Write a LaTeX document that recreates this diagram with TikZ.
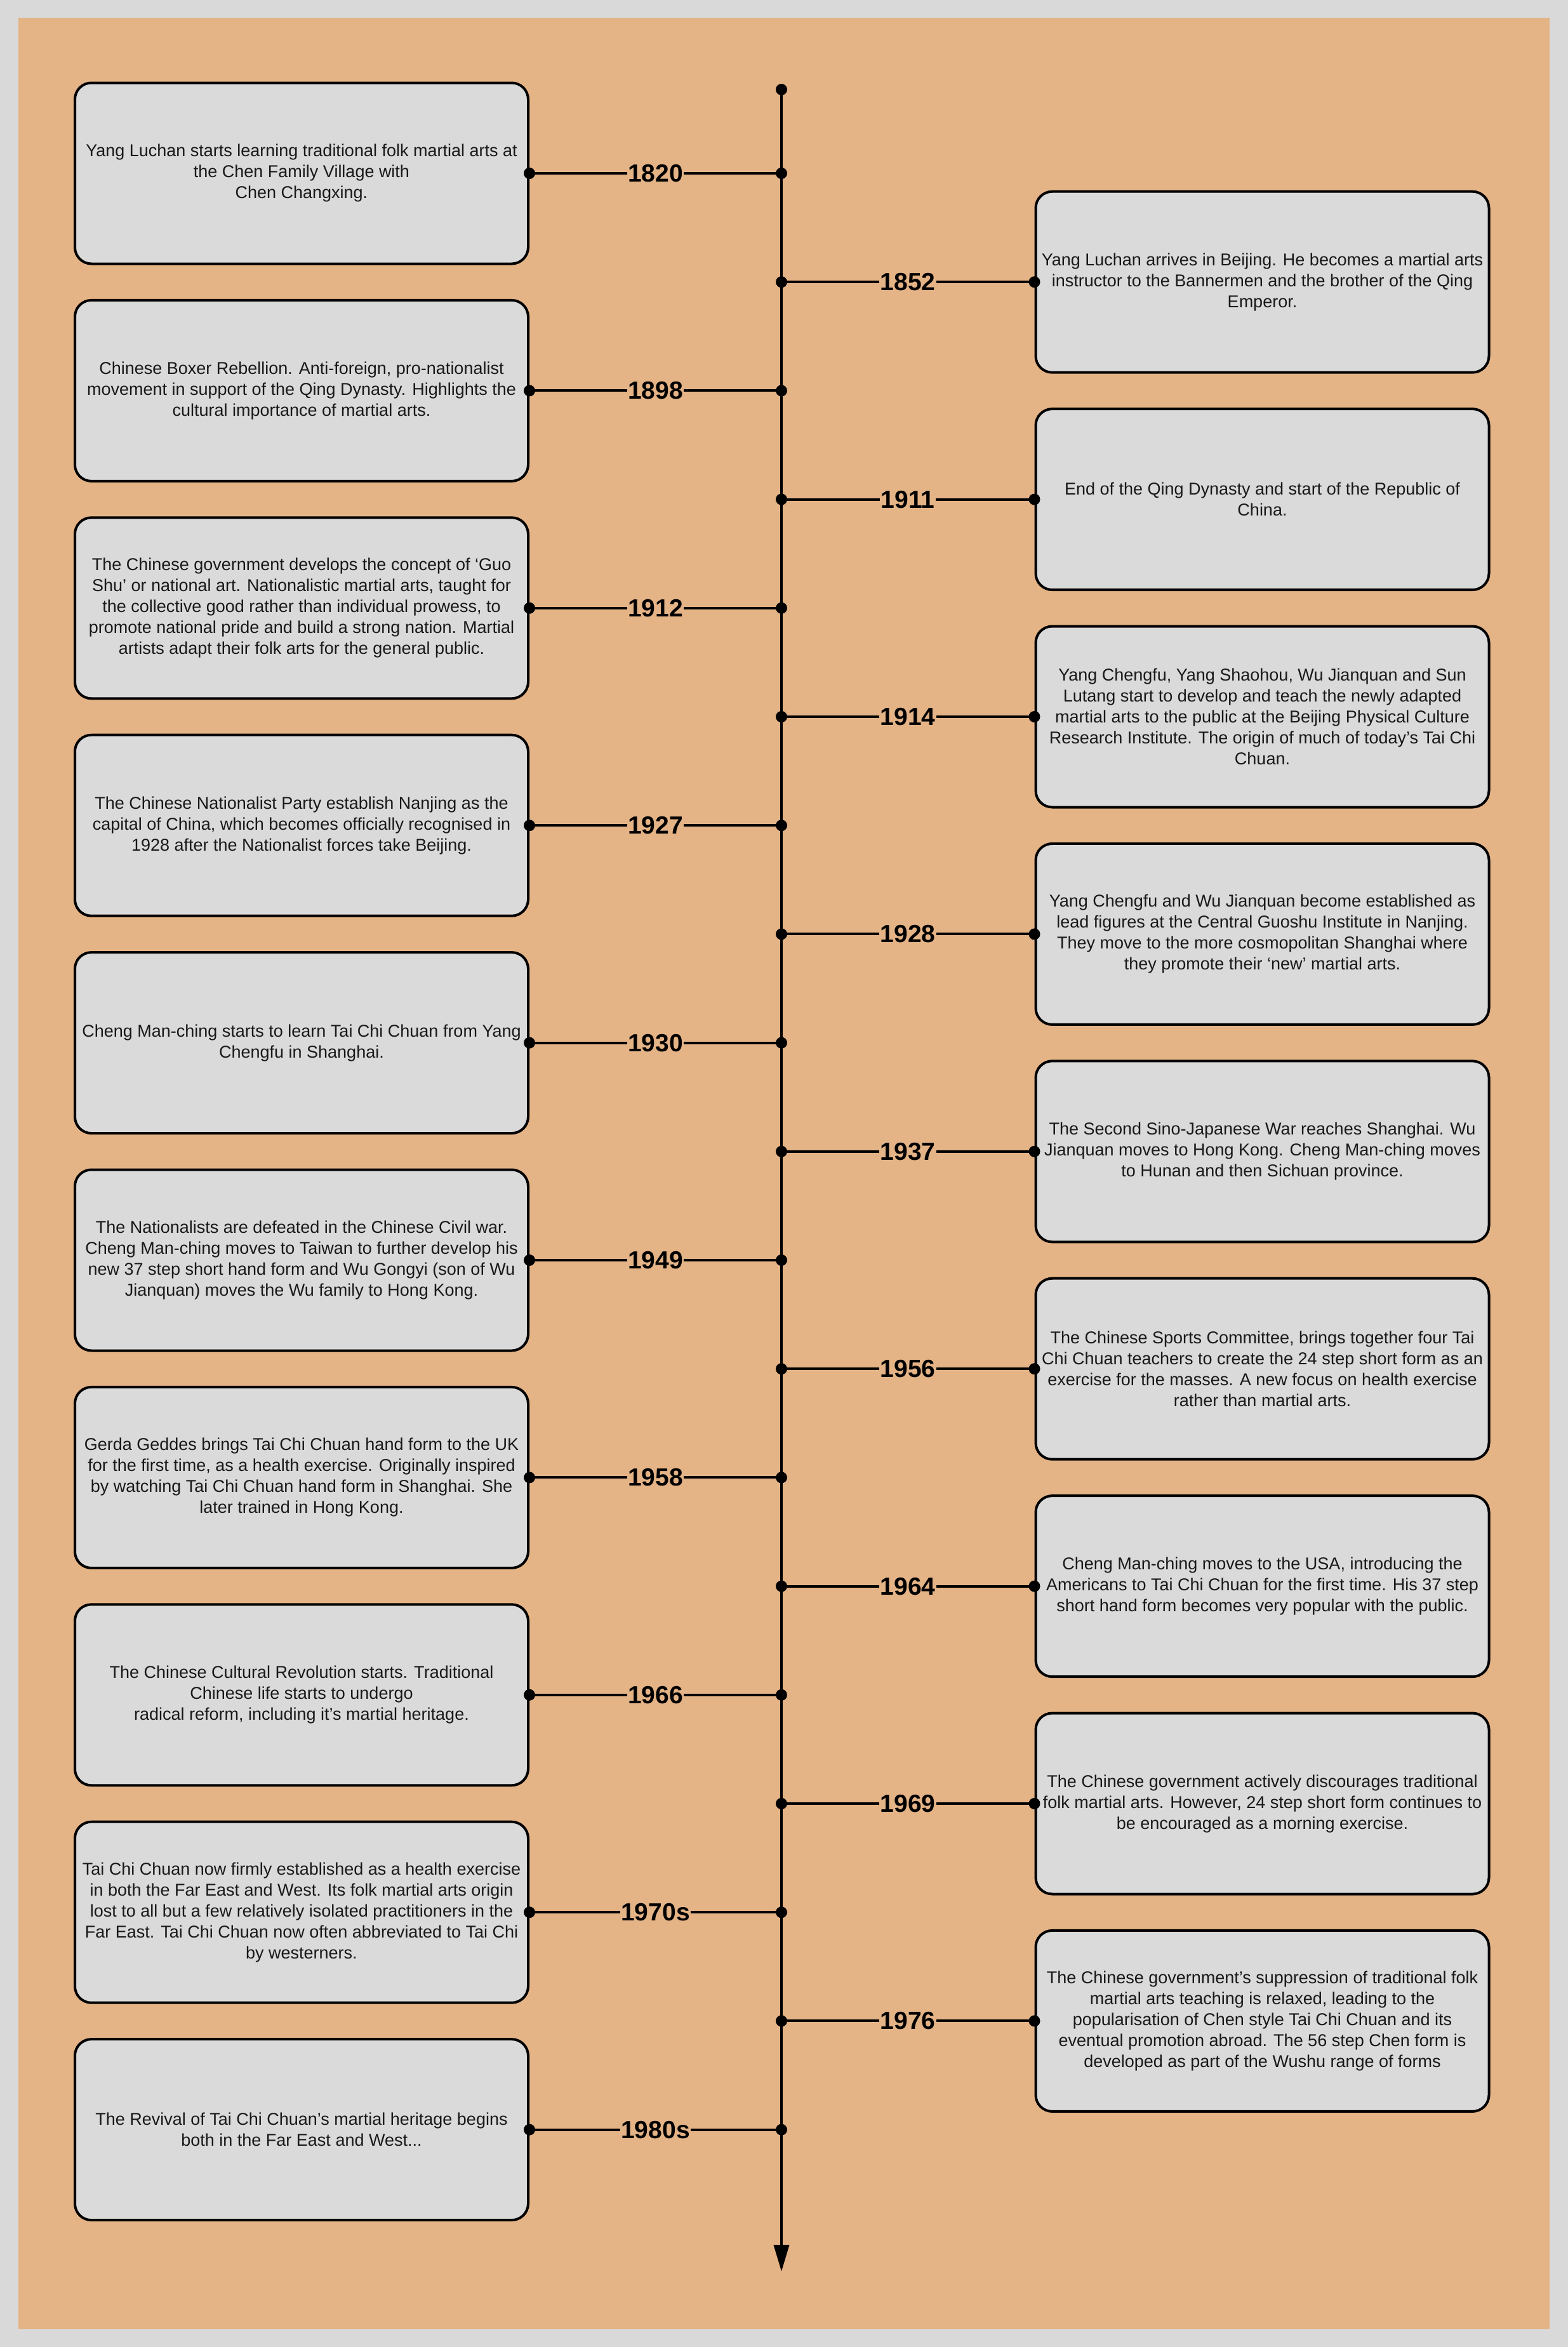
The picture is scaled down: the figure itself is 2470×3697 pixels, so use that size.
\documentclass[tikz,border=0pt]{standalone}
\usepackage{fontspec}
\setmainfont{Liberation Sans}
\usetikzlibrary{arrows.meta}
\definecolor{bggray}{RGB}{217,217,217}
\definecolor{panel}{RGB}{228,179,134}
\definecolor{boxgray}{RGB}{218,218,218}
\definecolor{txt}{RGB}{25,25,25}
\tikzset{
  evt/.style={draw=black, line width=4pt, fill=boxgray, rounded corners=26pt,
    minimum width=714pt, minimum height=285pt, align=center, inner sep=3pt,
    font=\fontsize{27}{33}\selectfont, text=txt},
  yr/.style={fill=panel, inner sep=1.5pt, font=\fontsize{39}{39}\selectfont\bfseries, text=black},
  conn/.style={line width=4pt, draw=black},
  axisline/.style={line width=4pt, draw=black, -{Triangle[length=42pt,width=24pt]}},
}
\newcommand\evtleft[3]{%
  \node[evt] (b#1) at (475,{273+171.2*#1}) {#3};
  \coordinate (a#1) at (1231,{273+171.2*#1});
  \draw[conn] (b#1.east) -- node[yr]{#2} (a#1);
  \fill (b#1.east) circle (9pt);
  \fill (a#1) circle (9pt);}
\newcommand\evtright[3]{%
  \node[evt] (b#1) at (1988.5,{273+171.2*#1}) {#3};
  \coordinate (a#1) at (1231,{273+171.2*#1});
  \draw[conn] (a#1) -- node[yr]{#2} (b#1.west);
  \fill (b#1.west) circle (9pt);
  \fill (a#1) circle (9pt);}
\begin{document}
\begin{tikzpicture}[x=1pt,y=-1pt]
\fill[bggray] (0,0) rectangle (2470,3697);
\fill[panel] (29,28) rectangle (2441,3669);
\useasboundingbox (0,0) rectangle (2470,3697);
\coordinate (top) at (1231,141);
\coordinate (bot) at (1231,3578);
\draw[axisline] (top) -- (bot);
\fill (top) circle (9pt);

\evtleft{0}{1820}{Yang Luchan starts learning traditional  folk martial arts at\\the Chen Family Village with\\Chen Changxing.}
\evtright{1}{1852}{Yang Luchan arrives in Beijing. He becomes a martial arts\\instructor to the Bannermen and the brother of the Qing\\Emperor.}
\evtleft{2}{1898}{Chinese Boxer Rebellion. Anti-foreign, pro-nationalist\\movement in support of the Qing Dynasty. Highlights the\\cultural importance of martial arts.}
\evtright{3}{1911}{End of the Qing Dynasty and start of the Republic of\\China.}
\evtleft{4}{1912}{The Chinese government develops the concept of ‘Guo\\Shu’ or national art. Nationalistic martial arts, taught for\\the collective good rather than individual prowess, to\\promote national pride and build a strong nation. Martial\\artists adapt their folk arts for the general public.}
\evtright{5}{1914}{Yang Chengfu, Yang Shaohou, Wu Jianquan and Sun\\Lutang start to develop and teach the newly adapted\\martial arts to the public at the Beijing Physical Culture\\Research Institute. The origin of much of today’s Tai Chi\\Chuan.}
\evtleft{6}{1927}{The Chinese Nationalist Party establish Nanjing as the\\capital of China, which becomes officially recognised in\\1928 after the Nationalist forces take Beijing.}
\evtright{7}{1928}{Yang Chengfu and Wu Jianquan become established as\\lead figures at the Central Guoshu Institute in Nanjing.\\They move to the more cosmopolitan Shanghai where\\they promote their ‘new’ martial arts.}
\evtleft{8}{1930}{Cheng Man-ching starts to learn Tai Chi Chuan from Yang\\Chengfu in Shanghai.}
\evtright{9}{1937}{The Second Sino-Japanese War reaches Shanghai. Wu\\Jianquan moves to Hong Kong. Cheng Man-ching moves\\to Hunan and then Sichuan province.}
\evtleft{10}{1949}{The Nationalists are defeated in the Chinese Civil war.\\Cheng Man-ching moves to Taiwan to further develop his\\new 37 step short hand form and Wu Gongyi (son of Wu\\Jianquan) moves the Wu family to Hong Kong.}
\evtright{11}{1956}{The Chinese Sports Committee, brings together four Tai\\Chi Chuan teachers to create the 24 step short form as an\\exercise for the masses.  A new focus on health exercise\\rather than martial arts.}
\evtleft{12}{1958}{Gerda Geddes brings Tai Chi Chuan hand form to the UK\\for the first time, as a health exercise. Originally inspired\\by watching Tai Chi Chuan hand form in Shanghai. She\\later trained in Hong Kong.}
\evtright{13}{1964}{Cheng Man-ching moves to the USA, introducing the\\Americans to Tai Chi Chuan for the first time. His 37 step\\short hand form becomes very popular with the public.}
\evtleft{14}{1966}{The Chinese Cultural Revolution starts. Traditional\\Chinese life starts to undergo\\radical reform, including it’s martial heritage.}
\evtright{15}{1969}{The Chinese government actively discourages traditional\\folk martial arts. However, 24 step short form continues to\\be encouraged as a morning exercise.}
\evtleft{16}{1970s}{Tai Chi Chuan now firmly established as a health exercise\\in both the Far East and West. Its folk martial arts origin\\lost to all but a few relatively isolated practitioners in the\\Far East. Tai Chi Chuan now often abbreviated to Tai Chi\\by westerners.}
\evtright{17}{1976}{The Chinese government’s suppression of traditional  folk\\martial arts teaching is relaxed, leading to the\\popularisation of Chen style Tai Chi Chuan and its\\eventual promotion abroad.  The 56 step Chen form is\\developed as part of the Wushu range of forms}
\evtleft{18}{1980s}{The Revival of Tai Chi Chuan’s martial heritage begins\\both in the Far East and West...}
\end{tikzpicture}
\end{document}
